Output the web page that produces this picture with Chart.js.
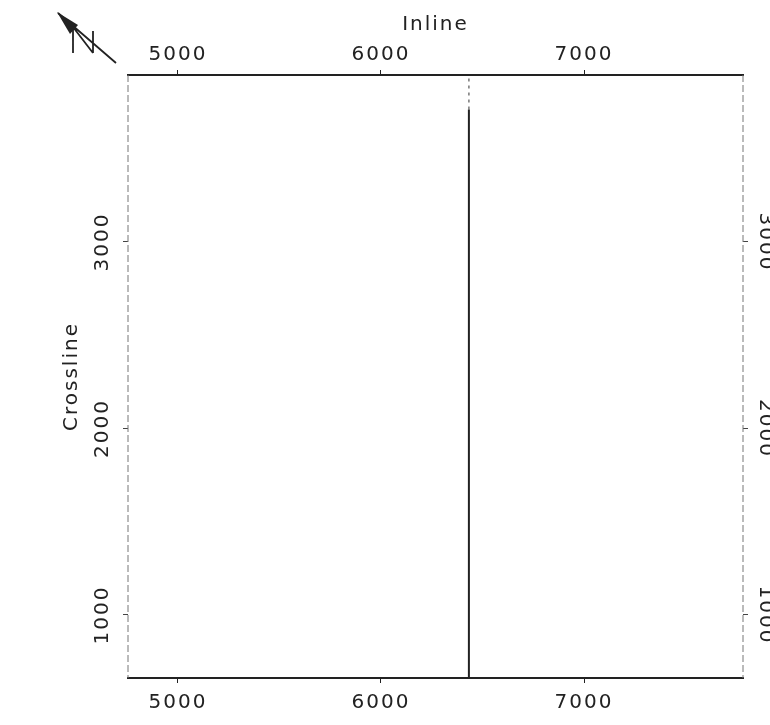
<!doctype html>
<html>
<head>
<script src="https://cdn.jsdelivr.net/npm/chart.js@4.4.0/dist/chart.umd.min.js"></script>
<style>
  html, body { margin: 0; background: #fff; }
  #wrap { width: 770px; height: 725px; }
</style>
</head>
<body>
<div id="wrap"><canvas id="chart"></canvas></div>
<script>
const inlineTicks = [5000, 6000, 7000]
const crosslineTicks = [1000, 2000, 3000]
const inlineRange = [4754, 7783]
const crosslineRange = [662, 3895]

// the one line on the map: solid part, then a faint dotted part up to the frame
const lineInline = [6433, 6433]
const lineCrossline = [662, 3710]
const lineTopInline = [6433, 6433]
const lineTopCrossline = [3710, 3895]

const ink = '#222'
const tickFont = { family: 'DejaVu Sans', size: 20 }
const titleFont = { family: 'DejaVu Sans', size: 20 }

const toPoints = (xs, ys) => xs.map((x, i) => ({ x: x, y: ys[i] }))
const fixTicks = values => scale => { scale.ticks = values.map(v => ({ value: v })) }
const fixSize = (key, size) => scale => { scale[key] = size }
const plain = v => String(v)

// dashed left/right frame and the north arrow
const mapFrame = {
  id: 'mapFrame',
  beforeDraw(chart) {
    chart.ctx.letterSpacing = '2px'
  },
  afterDraw(chart) {
    const ctx = chart.ctx
    const a = chart.chartArea
    ctx.save()
    ctx.strokeStyle = '#777'
    ctx.lineWidth = 1
    ctx.setLineDash([7, 3])
    ctx.beginPath()
    ctx.moveTo(a.left, a.top); ctx.lineTo(a.left, a.bottom)
    ctx.moveTo(a.right, a.top); ctx.lineTo(a.right, a.bottom)
    ctx.stroke()
    ctx.setLineDash([])

    // north arrow
    ctx.strokeStyle = ink
    ctx.fillStyle = ink
    ctx.lineWidth = 1.8
    ctx.beginPath()
    ctx.moveTo(58, 13); ctx.lineTo(116, 63)
    ctx.moveTo(73, 27); ctx.lineTo(73, 53)
    ctx.moveTo(73, 27); ctx.lineTo(93, 53)
    ctx.moveTo(93, 31); ctx.lineTo(93, 53)
    ctx.stroke()
    ctx.beginPath()
    ctx.moveTo(57, 12)
    ctx.lineTo(78, 25)
    ctx.lineTo(70, 34)
    ctx.closePath()
    ctx.fill()
    ctx.restore()
  }
}

const xScale = (position, size, pad) => ({
  type: 'linear',
  position: position,
  min: inlineRange[0],
  max: inlineRange[1],
  afterBuildTicks: fixTicks(inlineTicks),
  afterFit: fixSize('height', size),
  grid: { drawOnChartArea: false, tickLength: 5, color: ink, tickWidth: 1 },
  border: { display: true, color: ink, width: 2 },
  ticks: { font: tickFont, color: ink, padding: pad, maxRotation: 0, callback: plain }
})

const yScale = (position, size, rot, pad) => ({
  type: 'linear',
  position: position,
  min: crosslineRange[0],
  max: crosslineRange[1],
  afterBuildTicks: fixTicks(crosslineTicks),
  afterFit: fixSize('width', size),
  grid: { drawOnChartArea: false, tickLength: 5, color: '#444', tickWidth: 1 },
  border: { display: false },
  ticks: { font: tickFont, color: ink, padding: pad, minRotation: rot, maxRotation: Math.max(rot, 90), crossAlign: 'center', callback: plain }
})

const topAxis = xScale('top', 75, 3)
topAxis.title = { display: true, text: 'Inline', font: titleFont, color: ink, padding: { top: 13, bottom: 0 } }

const leftAxis = yScale('left', 128, 90, -5)
leftAxis.title = { display: true, text: 'Crossline', font: titleFont, color: ink, padding: { top: 60, bottom: 0 } }

new Chart(document.getElementById('chart'), {
  type: 'scatter',
  data: {
    datasets: [
      {
        data: toPoints(lineInline, lineCrossline),
        showLine: true,
        borderColor: ink,
        borderWidth: 2,
        pointRadius: 0,
        xAxisID: 'x',
        yAxisID: 'y'
      },
      {
        data: toPoints(lineTopInline, lineTopCrossline),
        showLine: true,
        borderColor: '#777',
        borderWidth: 1.5,
        borderDash: [3, 4],
        pointRadius: 0,
        xAxisID: 'x',
        yAxisID: 'y'
      }
    ]
  },
  options: {
    responsive: true,
    maintainAspectRatio: false,
    animation: false,
    layout: { padding: 0 },
    plugins: { legend: { display: false }, tooltip: { enabled: false } },
    scales: {
      x: xScale('bottom', 47, 8),
      x2: topAxis,
      y: leftAxis,
      y2: yScale('right', 27, -90, -8)
    }
  },
  plugins: [mapFrame]
})
</script>
</body>
</html>
